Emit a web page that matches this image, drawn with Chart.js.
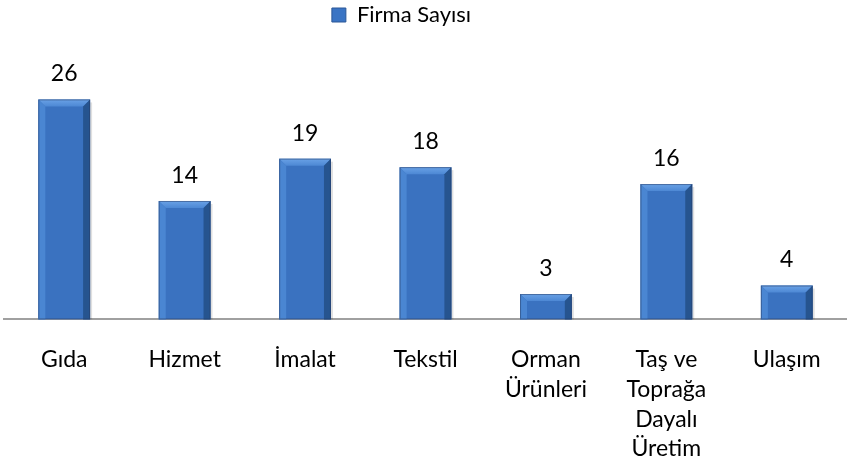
<!DOCTYPE html>
<html>
<head>
<meta charset="utf-8">
<script src="https://cdn.jsdelivr.net/npm/chart.js@4.4.1/dist/chart.umd.min.js"></script>
<style>
  html, body { margin: 0; padding: 0; background: #fff; }
  .chartBox { width: 847px; height: 473px; }
</style>
</head>
<body>
<div class="chartBox"><canvas id="chart" width="847" height="473"></canvas></div>
<script>
// data
const categories = [
  "Gıda",
  "Hizmet",
  "İmalat",
  "Tekstil",
  ["Orman", "Ürünleri"],
  ["Taş ve", "Toprağa", "Dayalı", "Üretim"],
  "Ulaşım"
];
const firmaSayisi = [26, 14, 19, 18, 3, 16, 4];
const seriesName = "Firma Sayısı";

const FONT = "Lato, 'Open Sans', sans-serif";

// bar face: darker on the sides, lighter in the middle
function barFill(context) {
  const { chart } = context;
  const el = context.element;
  if (!el || el.width === undefined) return "#3a72c0";
  const left = el.x - el.width / 2;
  const g = chart.ctx.createLinearGradient(left, 0, left + el.width, 0);
  g.addColorStop(0, "#3068b4");
  g.addColorStop(0.12, "#3c77c6");
  g.addColorStop(0.5, "#3f7bca");
  g.addColorStop(0.85, "#356cb8");
  g.addColorStop(1, "#1d4478");
  return g;
}

// bevel on top of each bar + value labels
const bevelAndLabels = {
  id: "bevelAndLabels",
  afterDatasetsDraw(chart) {
    const ctx = chart.ctx;
    const meta = chart.getDatasetMeta(0);
    meta.data.forEach((bar, i) => {
      const w = bar.width;
      const l = bar.x - w / 2, r = bar.x + w / 2;
      const t = bar.y, b = bar.base;
      const bev = Math.min(7, (b - t) / 2);
      ctx.save();
      // soft shadow on the right
      ctx.fillStyle = "rgba(0,0,0,0.12)";
      ctx.fillRect(r, t + 3, 2, b - t - 3);
      // top bevel
      const tg = ctx.createLinearGradient(0, t, 0, t + bev);
      tg.addColorStop(0, "#6aa2e6");
      tg.addColorStop(1, "#4d88d4");
      ctx.fillStyle = tg;
      ctx.beginPath();
      ctx.moveTo(l, t); ctx.lineTo(r, t); ctx.lineTo(r - bev, t + bev); ctx.lineTo(l + bev, t + bev);
      ctx.closePath(); ctx.fill();
      // left bevel
      ctx.fillStyle = "#4a86d2";
      ctx.beginPath();
      ctx.moveTo(l, t); ctx.lineTo(l + bev, t + bev); ctx.lineTo(l + bev, b); ctx.lineTo(l, b);
      ctx.closePath(); ctx.fill();
      // right bevel
      ctx.fillStyle = "#26548f";
      ctx.beginPath();
      ctx.moveTo(r, t); ctx.lineTo(r - bev, t + bev); ctx.lineTo(r - bev, b); ctx.lineTo(r, b);
      ctx.closePath(); ctx.fill();
      // outline
      ctx.strokeStyle = "rgba(40,60,100,0.5)";
      ctx.lineWidth = 1;
      ctx.strokeRect(l + 0.5, t + 0.5, w - 1, b - t - 1);
      ctx.restore();

      // value label
      ctx.save();
      ctx.fillStyle = "#000";
      ctx.font = "23px " + FONT;
      ctx.textAlign = "center";
      ctx.textBaseline = "bottom";
      ctx.fillText(firmaSayisi[i], bar.x, t - 14);
      ctx.restore();
    });
  }
};

// legend sits a bit left of centre in the original
const legendShift = {
  id: "legendShift",
  afterUpdate(chart) {
    chart.legend.left -= 24;
    chart.legend.right -= 24;
  }
};

const chart = new Chart(document.getElementById("chart"), {
  type: "bar",
  data: {
    labels: categories,
    datasets: [{
      label: seriesName,
      data: firmaSayisi,
      backgroundColor: barFill,
      borderWidth: 0,
      categoryPercentage: 1,
      barPercentage: 0.43
    }]
  },
  options: {
    responsive: false,
    animation: false,
    layout: { padding: { left: 4, right: 0, top: 0, bottom: 9 } },
    plugins: {
      legend: {
        display: true,
        position: "top",
        labels: {
          color: "#000",
          font: { family: FONT, size: 22 },
          boxWidth: 14,
          boxHeight: 14,
          padding: 4,
          generateLabels: () => [{
            text: seriesName,
            fillStyle: "#3a74c4",
            strokeStyle: "#2b5797",
            lineWidth: 1,
            datasetIndex: 0
          }]
        }
      },
      tooltip: { enabled: false }
    },
    scales: {
      x: {
        grid: { display: false },
        border: { display: true, color: "#a0a0a0", width: 2 },
        ticks: {
          color: "#000",
          font: { family: FONT, size: 23, lineHeight: 1.3 },
          padding: 17,
          maxRotation: 0,
          autoSkip: false
        },
        afterFit(scale) {
          scale.height -= 17;
        }
      },
      y: {
        display: false,
        min: 0,
        max: 33.5
      }
    }
  },
  plugins: [bevelAndLabels, legendShift]
});
</script>
</body>
</html>
